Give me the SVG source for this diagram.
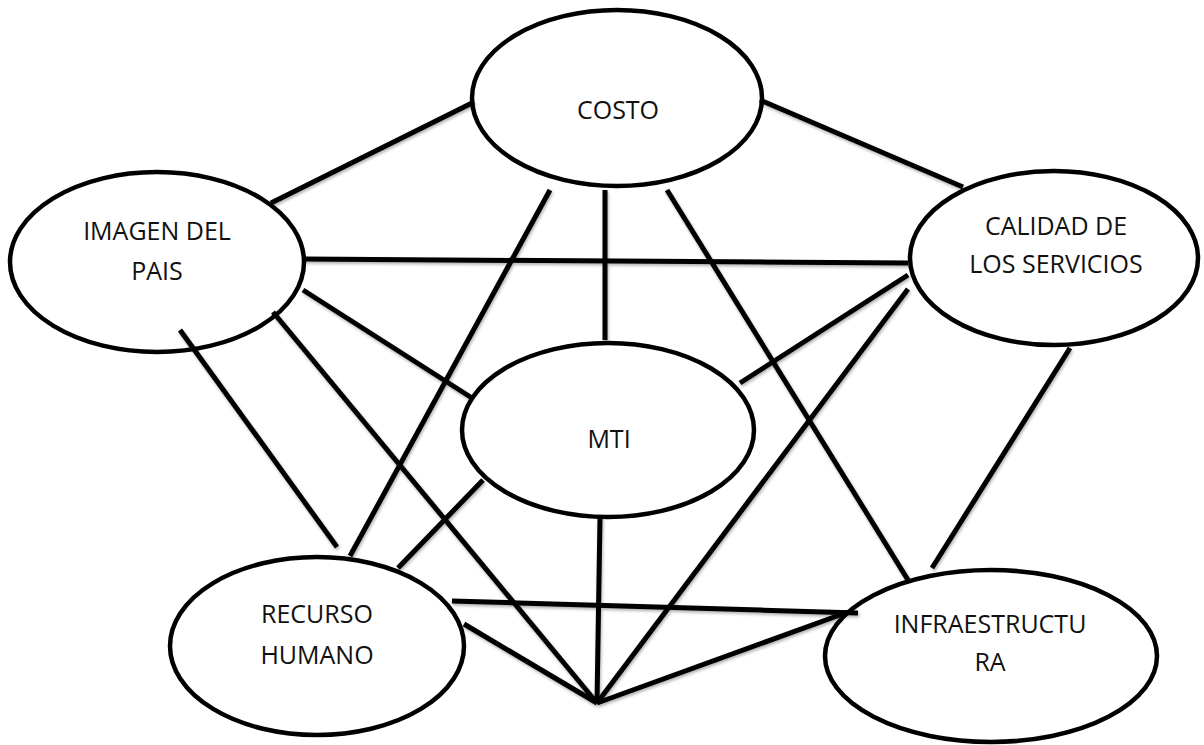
<svg xmlns="http://www.w3.org/2000/svg" width="1204" height="745" viewBox="0 0 1204 745">
<defs>
<style>
.node ellipse{fill:#fff;stroke:#000;stroke-width:4.5}
.node text{font-family:"Open Sans","Liberation Sans",sans-serif;font-size:25px;fill:#111;text-anchor:middle}
#connectors line{stroke:#000;stroke-width:5;stroke-linecap:butt}
</style>
<filter id="sh" x="-10%" y="-10%" width="120%" height="120%">
<feDropShadow dx="1" dy="2" stdDeviation="1.5" flood-color="#000" flood-opacity="0.3"/>
</filter>
</defs>
<rect width="1204" height="745" fill="#fff"/>
<g id="costo" class="node"><ellipse cx="617" cy="98" rx="145" ry="88"/><text x="618" y="119">COSTO</text></g>
<g id="imagen" class="node"><ellipse cx="157" cy="262" rx="147" ry="90"/><text x="157" y="240">IMAGEN DEL</text><text x="157" y="280">PAIS</text></g>
<g id="calidad" class="node"><ellipse cx="1054" cy="258" rx="144" ry="87"/><text x="1056" y="235">CALIDAD DE</text><text x="1056" y="273">LOS SERVICIOS</text></g>
<g id="mti" class="node"><ellipse cx="608" cy="430" rx="146" ry="87"/><text x="609" y="448">MTI</text></g>
<g id="recurso" class="node"><ellipse cx="317" cy="646" rx="147" ry="89"/><text x="317" y="623">RECURSO</text><text x="317" y="664">HUMANO</text></g>
<g id="infra" class="node"><ellipse cx="991" cy="656" rx="166" ry="86"/><text x="990" y="633">INFRAESTRUCTU</text><text x="990" y="671">RA</text></g>
<g id="connectors" filter="url(#sh)">
<line x1="271" y1="203" x2="474" y2="102"/>
<line x1="760" y1="100" x2="963" y2="187"/>
<line x1="303" y1="259" x2="908" y2="263"/>
<line x1="303" y1="290" x2="472" y2="398"/>
<line x1="273" y1="312" x2="597" y2="703"/>
<line x1="180" y1="330" x2="337" y2="547"/>
<line x1="550" y1="190" x2="350" y2="556"/>
<line x1="605" y1="190" x2="605" y2="340"/>
<line x1="667" y1="190" x2="908" y2="580"/>
<line x1="908" y1="275" x2="740" y2="383"/>
<line x1="908" y1="289" x2="597" y2="703"/>
<line x1="1070" y1="348" x2="932" y2="568"/>
<line x1="483" y1="480" x2="398" y2="568"/>
<line x1="600" y1="517" x2="597" y2="703"/>
<line x1="452" y1="601" x2="858" y2="613"/>
<line x1="464" y1="624" x2="597" y2="703"/>
<line x1="848" y1="612" x2="597" y2="703"/>
</g>
</svg>
